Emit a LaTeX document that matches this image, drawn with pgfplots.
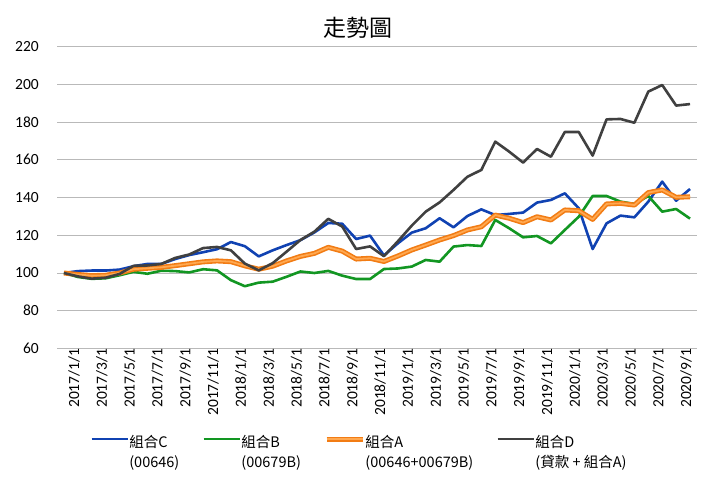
\documentclass[border=0pt]{standalone}
\usepackage{fontspec}
\usepackage{pgfplots}
\usepackage{pgfplotstable}
\pgfplotsset{compat=1.18}
\setmainfont{Carlito}
\newfontfamily\cjk{Noto Sans CJK TC}

\definecolor{serC}{RGB}{16,66,178}
\definecolor{serB}{RGB}{18,150,34}
\definecolor{serA}{RGB}{242,124,20}
\definecolor{serAin}{RGB}{255,168,80}
\definecolor{serD}{RGB}{64,64,64}
\definecolor{gridc}{RGB}{185,185,185}

% month index (0 = 2017/1/1), C, B, A, D
\pgfplotstableread{
i   C      B      A      D
0   100.0  100.0  100.0  100.0
1   101.0  97.9   99.2   98.2
2   101.3  96.9   98.6   97.0
3   101.3  97.2   98.8   97.5
4   101.8  98.8   100.0  99.5
5   103.6  100.6  102.0  103.8
6   104.8  99.6   102.5  104.0
7   104.8  101.2  103.0  104.8
8   107.4  101.0  103.9  108.0
9   109.5  100.3  104.9  109.8
10  111.0  102.0  105.9  113.2
11  112.6  101.4  106.4  113.8
12  116.4  96.2   106.0  112.0
13  114.2  93.0   103.8  105.0
14  108.8  94.9   102.0  101.4
15  112.0  95.4   103.6  105.2
16  114.8  98.0   106.4  111.3
17  117.4  100.8  108.8  117.5
18  121.5  100.0  110.4  121.9
19  126.5  101.1  113.6  128.7
20  126.1  98.6   111.6  124.6
21  118.0  96.8   107.4  112.7
22  119.8  96.8   107.8  114.1
23  109.3  102.1  106.1  108.9
24  115.7  102.4  109.0  116.8
25  121.4  103.4  112.2  125.1
26  123.7  106.9  114.8  132.5
27  129.0  106.0  117.5  137.4
28  124.2  114.0  119.8  144.0
29  130.2  114.8  122.8  151.0
30  133.7  114.3  124.5  154.6
31  130.7  128.1  130.7  169.6
32  131.3  123.7  129.0  164.3
33  132.0  118.9  126.7  158.5
34  137.3  119.6  129.8  165.7
35  138.7  115.7  128.1  161.6
36  142.2  122.8  133.4  174.7
37  134.3  129.8  133.0  174.7
38  112.7  140.8  128.4  162.2
39  126.3  140.8  136.6  181.4
40  130.4  137.8  136.9  181.6
41  129.5  136.6  136.0  179.6
42  137.8  140.8  142.6  196.1
43  148.4  132.5  144.0  199.6
44  138.3  133.9  140.1  188.7
45  144.5  128.8  140.4  189.5
}\trend

\begin{document}
\begin{tikzpicture}
\useasboundingbox (0,0) rectangle (720bp,480bp);
\begin{axis}[
    at={(57bp,131.5bp)}, anchor=south west,
    scale only axis,
    width=640bp, height=302bp,
    xmin=-0.5, xmax=45.5,
    ymin=60, ymax=220,
    ytick={60,80,...,220},
    xtick={0,2,...,44},
    xticklabels={2017/1/1,2017/3/1,2017/5/1,2017/7/1,2017/9/1,2017/11/1,
      2018/1/1,2018/3/1,2018/5/1,2018/7/1,2018/9/1,2018/11/1,
      2019/1/1,2019/3/1,2019/5/1,2019/7/1,2019/9/1,2019/11/1,
      2020/1/1,2020/3/1,2020/5/1,2020/7/1,2020/9/1},
    /pgf/number format/assume math mode=true,
    ticklabel style={font=\fontsize{15.5bp}{18bp}\selectfont, inner sep=0pt},
    yticklabel style={anchor=east, xshift=-18bp},
    xticklabel style={rotate=90, anchor=east, yshift=-10bp},
    axis line style={draw=none},
    major tick length=0pt,
    ymajorgrids,
    major grid style={gridc, line width=0.9bp},
    legend columns=4,
    legend style={draw=none, fill=none, inner sep=0pt,
      at={(axis description cs:0.0516,-0.273)}, anchor=north west,
      font=\cjk\fontsize{14.5bp}{20bp}\selectfont,
      cells={anchor=west, inner sep=0pt},
      /tikz/every odd column/.append style={column sep=-1.5bp},
      /tikz/every even column/.append style={column sep=21bp}},
    legend image code/.code={\draw[#1] (0bp,6.5bp) -- (36bp,6.5bp);},
    every axis plot/.append style={line join=round},
]
\addplot[serC, line width=2.6bp] table[x=i, y=C] {\trend};
\addlegendentry{\begin{tabular}{@{}l@{}}組合C\\(00646)\end{tabular}}

\addplot[serB, line width=2.6bp] table[x=i, y=B] {\trend};
\addlegendentry{\begin{tabular}{@{}l@{}}組合B\\(00679B)\end{tabular}}

\addplot[serA, line width=5bp,
  legend image code/.code={
    \draw[serA, line width=5bp] (0bp,6.5bp) -- (36bp,6.5bp);
    \draw[serAin, line width=1.8bp] (0bp,6.5bp) -- (36bp,6.5bp);}]
  table[x=i, y=A] {\trend};
\addlegendentry{\begin{tabular}{@{}l@{}}組合A\\(00646+00679B)\end{tabular}}
\addplot[serAin, line width=1.8bp, forget plot] table[x=i, y=A] {\trend};

\addplot[serD, line width=2.6bp] table[x=i, y=D] {\trend};
\addlegendentry{\begin{tabular}{@{}l@{}}組合D\\(貸款 + 組合A)\end{tabular}}
\end{axis}
\node[font=\cjk\fontsize{23bp}{26bp}\selectfont] at (358bp,452bp) {走勢圖};
\end{tikzpicture}
\end{document}
